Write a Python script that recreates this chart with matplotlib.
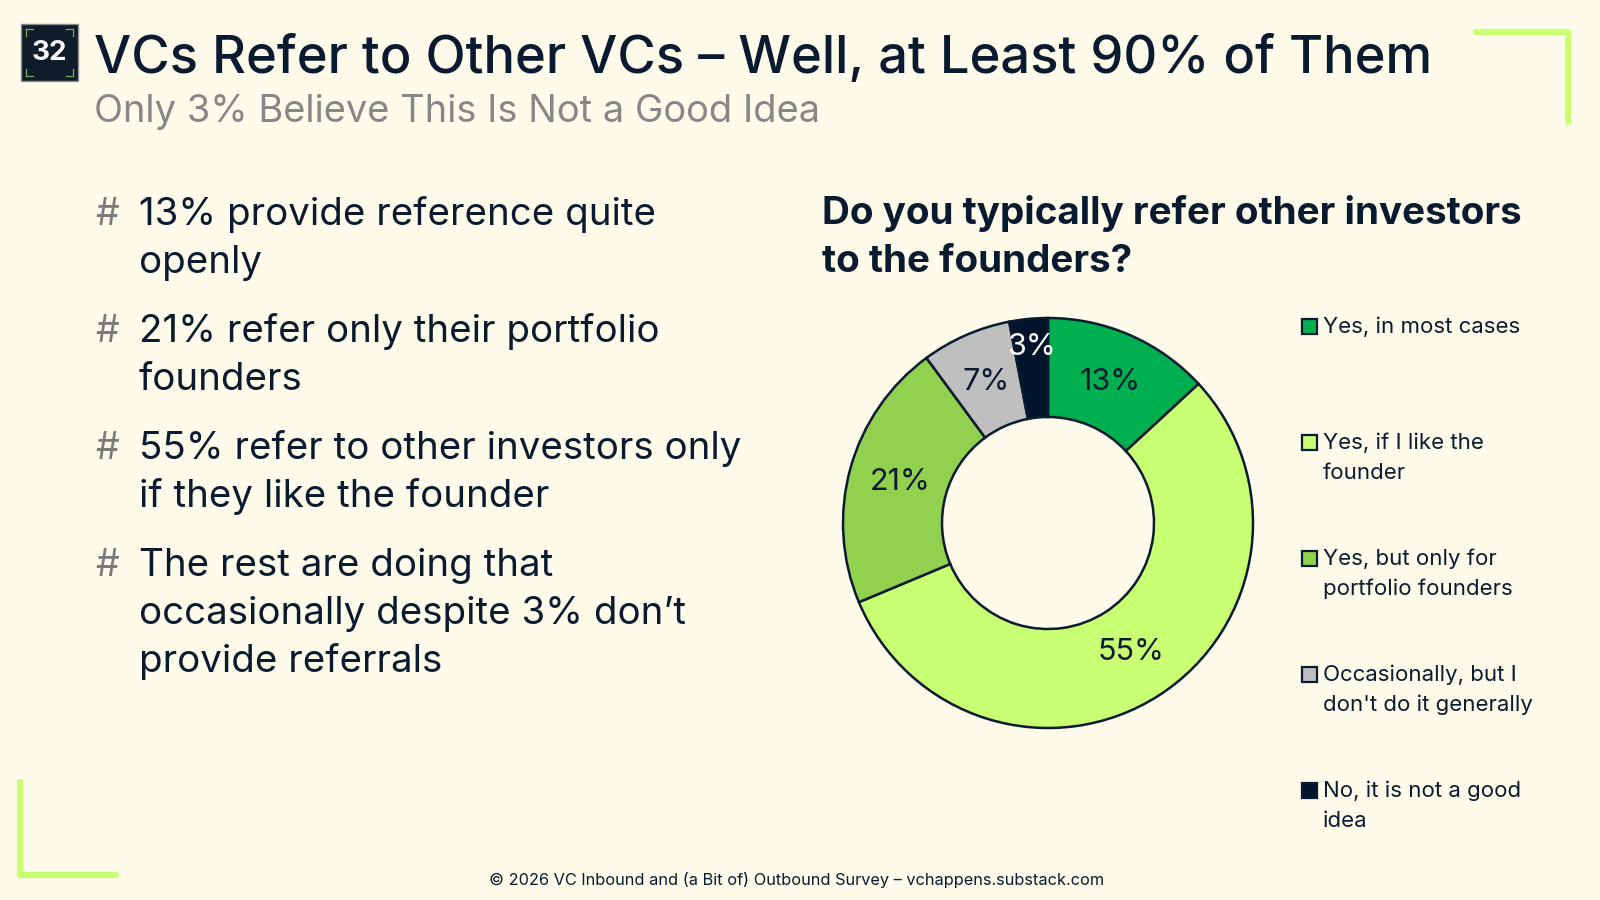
import numpy as np
import matplotlib
matplotlib.use("Agg")
import matplotlib.pyplot as plt
from matplotlib.patches import Rectangle

# data
categories = ["Yes, in most cases", "Yes, if I like the\nfounder",
              "Yes, but only for\nportfolio founders",
              "Occasionally, but I\ndon't do it generally",
              "No, it is not a good\nidea"]
shares = [13, 55, 21, 7, 3]
colors = ["#00b050", "#c8ff73", "#92d050", "#bfbfbf", "#00152b"]

bullets = [
    "13% provide reference quite\nopenly",
    "21% refer only their portfolio\nfounders",
    "55% refer to other investors only\nif they like the founder",
    "The rest are doing that\noccasionally despite 3% don\u2019t\nprovide referrals",
]

title = "VCs Refer to Other VCs \u2013 Well, at Least 90% of Them"
subtitle = "Only 3% Believe This Is Not a Good Idea"
question = "Do you typically refer other investors\nto the founders?"
footer = "\u00a9 2026 VC Inbound and (a Bit of) Outbound Survey \u2013 vchappens.substack.com"

BG = "#fefbea"
NAVY = "#0a1a2f"
LIME = "#c8ff73"

plt.rcParams['font.family'] = ['Inter', 'DejaVu Sans']

fig = plt.figure(figsize=(16, 9), dpi=100, facecolor=BG)
ax = fig.add_axes([0, 0, 1, 1])
ax.set_xlim(0, 1600)
ax.set_ylim(900, 0)
ax.axis('off')

# badge
ax.add_patch(Rectangle((21, 24), 57, 57, facecolor="#0f1d2b", edgecolor="#8a8f8a", lw=1))
for (x, y, dx, dy) in [(26, 29, 1, 1), (73, 29, -1, 1), (26, 76, 1, -1), (73, 76, -1, -1)]:
    ax.plot([x, x + 7 * dx], [y, y], color="#7fa860", lw=0.9)
    ax.plot([x, x], [y, y + 7 * dy], color="#7fa860", lw=0.9)
ax.text(49.5, 53, "32", color="white", fontsize=20, fontweight='bold', ha='center', va='center')

# title & subtitle
ax.text(94, 73, title, color=NAVY, fontsize=37.8, fontweight='medium', ha='left', va='baseline')
ax.text(94, 122, subtitle, color="#878787", fontsize=27.4, ha='left', va='baseline')

# corner brackets
ax.plot([1476, 1568, 1568], [32, 32, 122], color=LIME, lw=4.5, solid_capstyle='round',
        solid_joinstyle='round')
ax.plot([20, 20, 116], [782, 875, 875], color=LIME, lw=4.5, solid_capstyle='round',
        solid_joinstyle='round')

# bullets
y = 215
line_h = 48
for b in bullets:
    ax.text(95, y, "#", color="#7a7a7a", fontsize=27, ha='left', va='center')
    for ln in b.split("\n"):
        ax.text(139, y, ln, color=NAVY, fontsize=27.7, ha='left', va='center')
        y += line_h
    y += 21

# question
qy = 214
for ln in question.split("\n"):
    ax.text(822, qy, ln, color=NAVY, fontsize=27.8, fontweight='bold', ha='left', va='center')
    qy += 48

# legend
ly = 327
for cat, col in zip(categories, colors):
    ax.add_patch(Rectangle((1302, ly - 8), 15, 15, facecolor=col, edgecolor=NAVY, lw=1.6))
    for j, ln in enumerate(cat.split("\n")):
        ax.text(1323, ly + j * 30, ln, color=NAVY, fontsize=16, ha='left', va='center')
    ly += 116

# footer
ax.text(797, 880, footer, color=NAVY, fontsize=11.75, ha='center', va='center')

# donut
cx, cy, R, r_in = 1048, 523, 205, 106
half = 250
pax = fig.add_axes([(cx - half) / 1600, (900 - cy - half) / 900, 2 * half / 1600, 2 * half / 900])
pax.set_facecolor('none')
wedges, _ = pax.pie(shares, colors=colors, startangle=90, counterclock=False,
                    wedgeprops=dict(width=1 - r_in / R, edgecolor=NAVY, linewidth=1.8))
lim = half / R
pax.set_xlim(-lim, lim)
pax.set_ylim(-lim, lim)
pax.set_aspect('equal')
pax.axis('off')

cum = np.cumsum([0] + shares[:-1])
for i, (s, c0) in enumerate(zip(shares, cum)):
    mid = 90 - (c0 + s / 2) / sum(shares) * 360
    r = 0.86 if s < 5 else 0.75
    tc = "white" if i == len(shares) - 1 else NAVY
    pax.text(r * np.cos(np.radians(mid)), r * np.sin(np.radians(mid)), f"{s}%",
             color=tc, fontsize=22, ha='center', va='center')

fig.savefig("out.png", dpi=100, facecolor=BG)
